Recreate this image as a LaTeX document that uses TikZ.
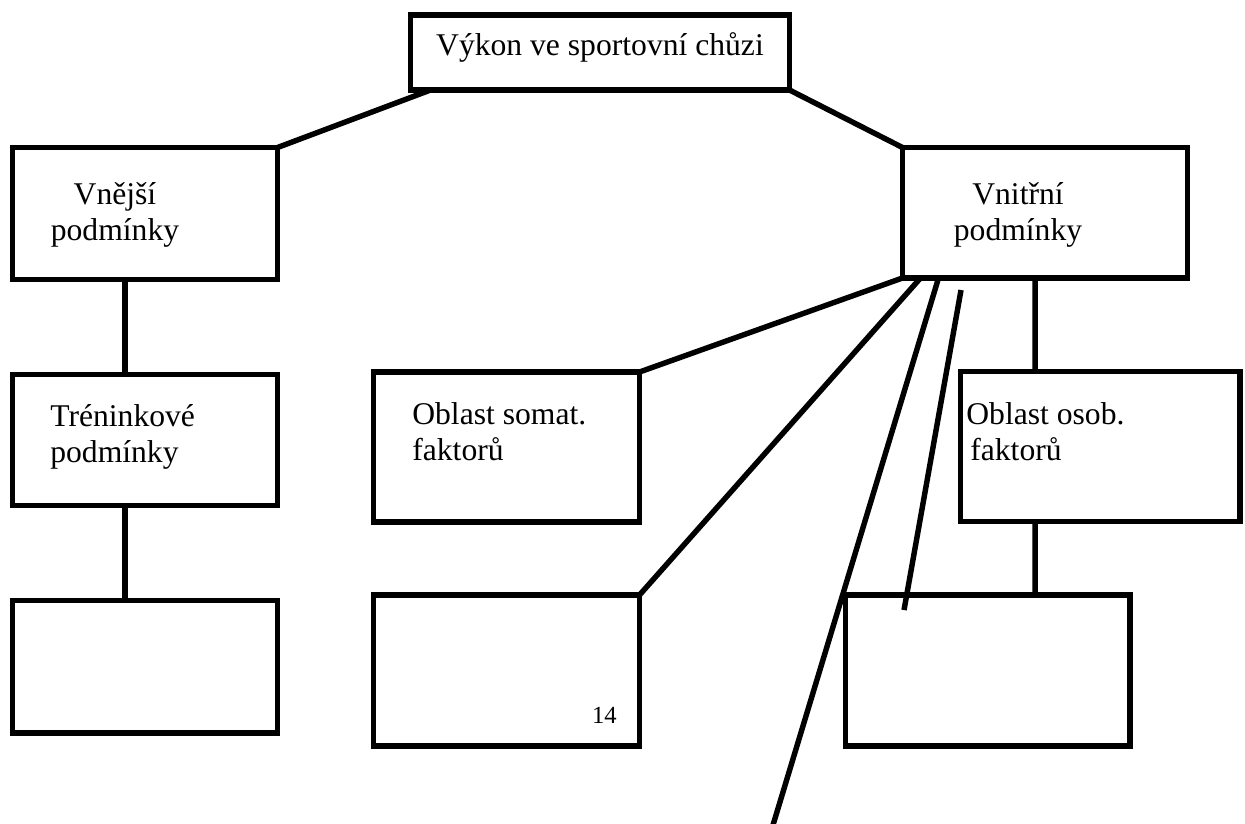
\documentclass[tikz,border=0pt]{standalone}
\usepackage{fontspec}
\setmainfont{Liberation Serif}
\usepackage{tikz}
\usetikzlibrary{positioning,calc}
\tikzstyle{box} = [draw, rectangle, line width=3.1pt, inner sep=0pt, outer sep=0pt]
\tikzstyle{link} = [line width=3.1pt]
\tikzstyle{boxtext} = [inner sep=0pt, font=\fontsize{18}{20}\selectfont]

\begin{document}
\begin{tikzpicture}[x=0.02cm, y=-0.02cm]
    \useasboundingbox (0,0) rectangle (1245,823);
    % Boxes
    \node[box, minimum width=7.58cm, minimum height=1.5cm] (vykon) at (600,52.5) {};
    \node[box, minimum width=5.3cm, minimum height=2.64cm] (vnejsi) at (145,213.5) {};
    \node[box, minimum width=5.7cm, minimum height=2.61cm] (vnitrni) at (1045,212.75) {};
    \node[box, minimum width=5.3cm, minimum height=2.62cm] (trenink) at (145,440) {};
    \node[box, minimum width=5.32cm, minimum height=3cm] (somat) at (506.5,447) {};
    \node[box, minimum width=5.59cm, minimum height=3cm] (osob) at (1100.25,446.5) {};
    \node[box, minimum width=5.3cm, minimum height=2.65cm] (prazdnyA) at (145,666.75) {};
    \node[box, minimum width=5.32cm, minimum height=3.02cm] (prazdnyB) at (506.5,670.5) {};
    \node[box, minimum width=5.69cm, minimum height=3.02cm] (prazdnyC) at (987.75,670.5) {};
    % Texts (anchored at the baseline of the second line)
    \node[boxtext, anchor=base] (vykon-t) at (600,55) {Výkon ve sportovní chůzi};
    \node[boxtext, align=center, anchor=base] (vnejsi-t) at (115,240) {Vnější\\podmínky};
    \node[boxtext, align=center, anchor=base] (vnitrni-t) at (1018,240) {Vnitřní\\podmínky};
    \node[boxtext, align=left, anchor=base west] (trenink-t) at (50,462) {Tréninkové\\podmínky};
    \node[boxtext, align=left, anchor=base west] (somat-t) at (412,460) {Oblast somat.\\faktorů};
    \node[boxtext, align=left, anchor=base west] (osob-t) at (966,460) {Oblast osob.\\\hspace*{0.08cm}faktorů};
    \node[inner sep=0pt, font=\fontsize{14}{16}\selectfont, anchor=base east] (strana) at (617,723) {14};
    % Connectors
    \coordinate (konec) at (771.5,830);
    \draw[link] ($(vykon.south west)+(20,0)$) -- (vnejsi.north east);
    \draw[link] (vykon.south east) -- (vnitrni.north west);
    \draw[link] ($(vnejsi.south west)+(112.5,0)$) -- ($(trenink.north west)+(112.5,0)$);
    \draw[link] ($(trenink.south west)+(112.5,0)$) -- ($(prazdnyA.north west)+(112.5,0)$);
    \draw[link] (vnitrni.south west) -- (somat.north east);
    \draw[link] ($(vnitrni.south west)+(18,0)$) -- (prazdnyB.north east);
    \draw[link] ($(vnitrni.south west)+(36,0)$) -- (konec);
    \draw[link] ($(vnitrni.south west)+(58.5,12)$) -- ($(prazdnyC.north west)+(58.5,15)$);
    \draw[link] ($(vnitrni.south west)+(132.5,0)$) -- ($(osob.north west)+(74.5,0)$);
    \draw[link] ($(osob.south west)+(74.5,0)$) -- ($(prazdnyC.north west)+(189.5,0)$);
\end{tikzpicture}
\end{document}
